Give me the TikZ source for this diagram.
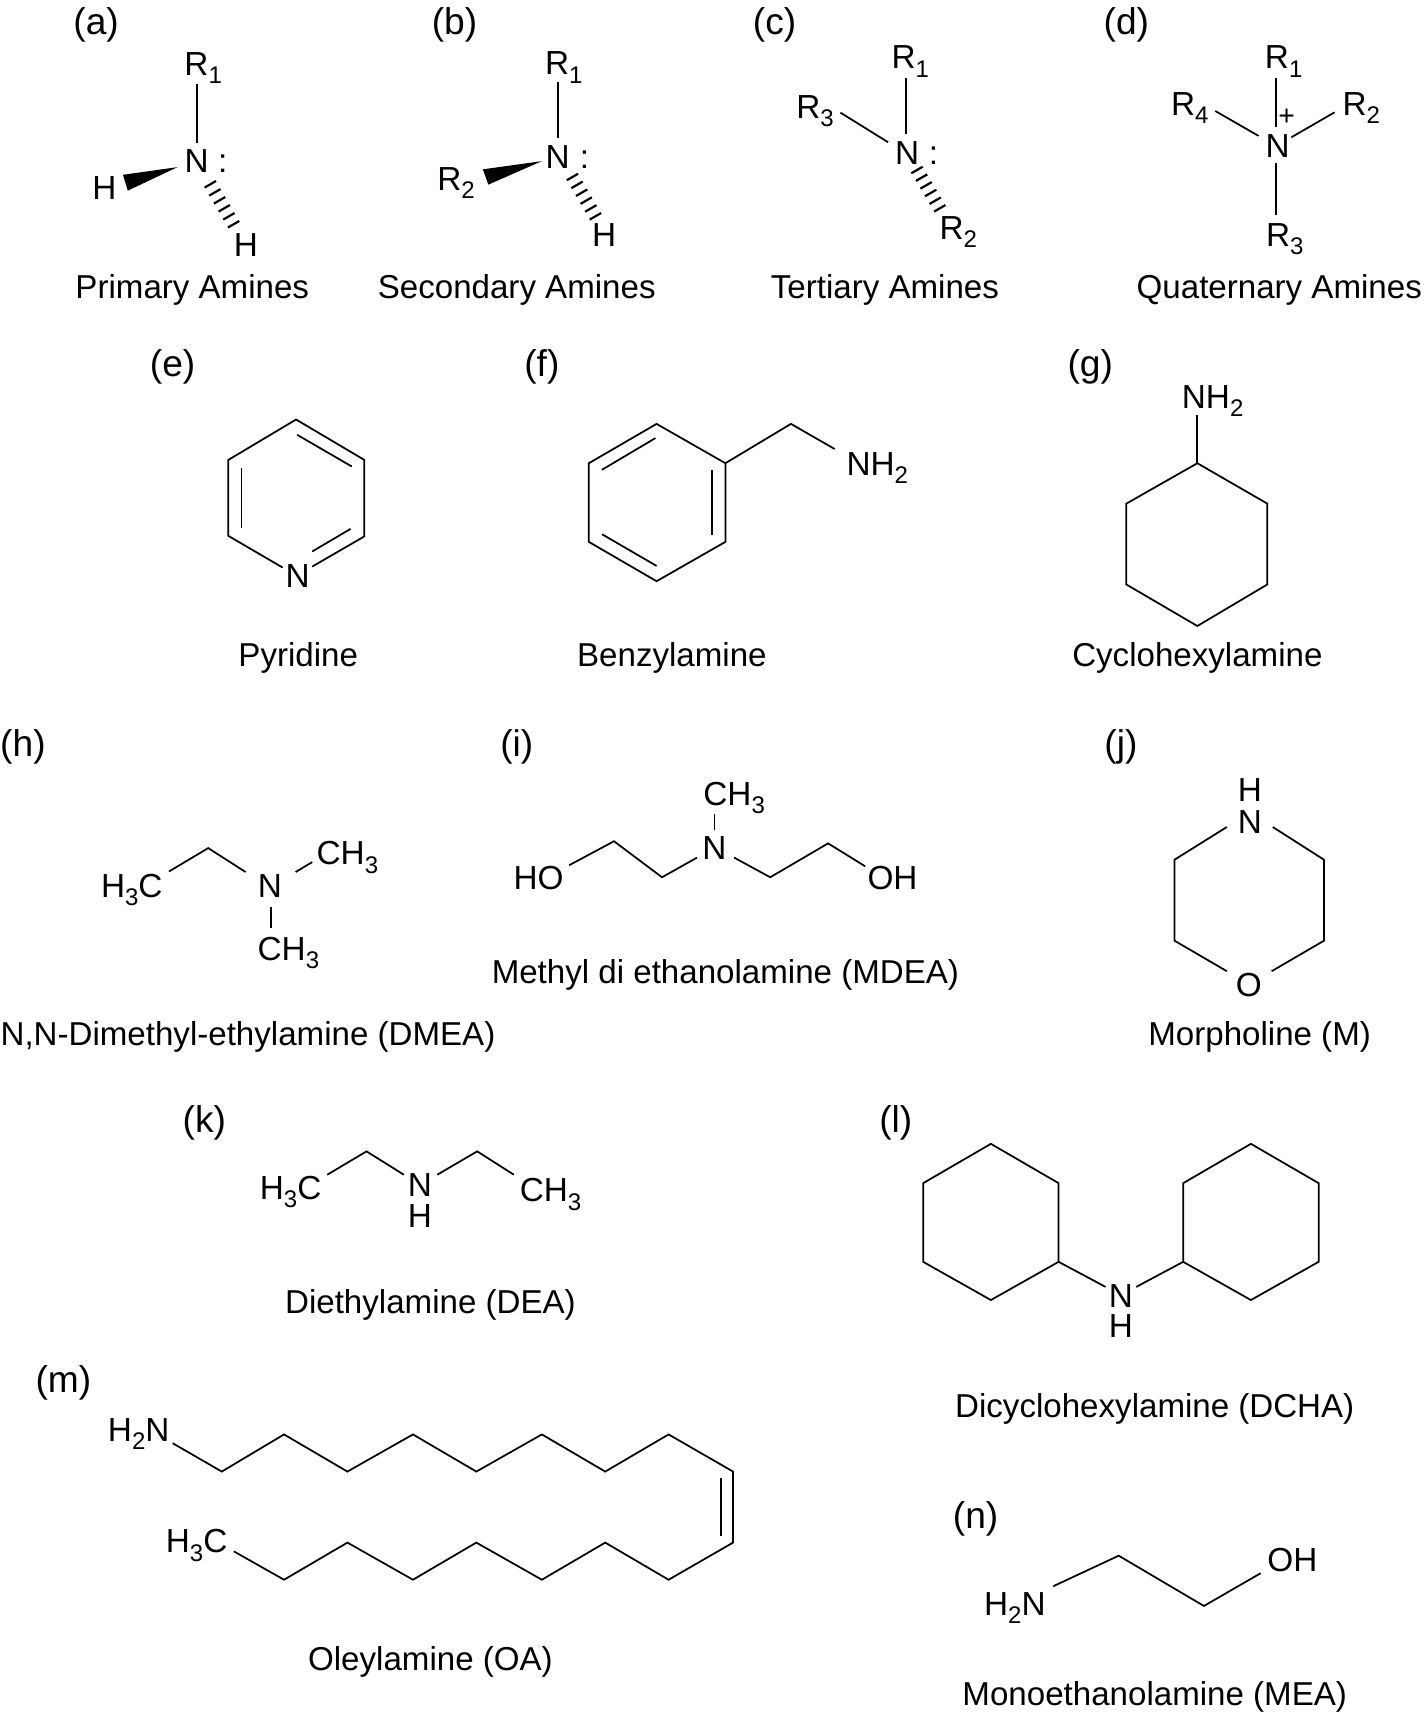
\documentclass[tikz,border=0pt]{standalone}
\usepackage{fontspec}
\setmainfont{Liberation Sans}
\usetikzlibrary{calc}
\newcommand{\sbs}[1]{\smash{\raisebox{-7.5pt}{\fontsize{22}{22}\selectfont #1}}}
\tikzset{
  x=1pt,y=-1pt,
  letterlab/.style={inner sep=0pt,yshift=-2pt,font=\fontsize{34}{38}\selectfont,text=black},
  namelab/.style={inner sep=0pt,yshift=-3.5pt,font=\fontsize{30.3}{34}\selectfont,text=black},
  atom/.style={inner sep=0pt,font=\fontsize{30.5}{34}\selectfont,text=black},
  bond/.style={draw=black,line width=1.6pt,line join=miter},
  wedgeb/.style={fill=black,draw=none},
  hashl/.style={draw=black,line width=2pt},
}
% hashed bond from (#1) to (#2)
\newcommand{\hashb}[2]{%
  \foreach \t in {0,0.2,0.4,0.6,0.8,1}{%
    \coordinate (hp) at ($(#1)!\t!(#2)$);
    \draw[hashl] ($(hp)+(-5.2,3)$) -- ($(hp)+(5.2,-3)$);
  }}
\begin{document}
\begin{tikzpicture}
\useasboundingbox (0,0) rectangle (1304,1568);
% ---- labels
\foreach \n/\p/\t in {la/{(88,21)}/(a),lb/{(416,21)}/(b),lc/{(709,21)}/(c),ld/{(1031,21)}/(d),
 le/{(158,334)}/(e),lf/{(496,334)}/(f),lg/{(998,334)}/(g),
 lh/{(21,682)}/(h),li/{(473,682)}/(i),lj/{(1026,682)}/(j),
 lk/{(187,1026)}/(k),ll/{(820,1026)}/(l),lm/{(58,1264)}/(m),ln/{(893,1388)}/(n)}
 {\node[letterlab] (\n) at \p {\t};}
\foreach \n/\p/\t in {ta/{(176,262)}/Primary Amines,tb/{(473,262)}/Secondary Amines,
 tc/{(810,262)}/Tertiary Amines,td/{(1171,262)}/Quaternary Amines,
 te/{(273,599)}/Pyridine,tf/{(615,599)}/Benzylamine,tg/{(1096,599)}/Cyclohexylamine,
 th/{(227,946)}/{N,N-Dimethyl-ethylamine (DMEA)},ti/{(664,889)}/Methyl di ethanolamine (MDEA),
 tj/{(1153,946)}/Morpholine (M),tk/{(394,1191)}/Diethylamine (DEA),
 tl/{(1057,1286)}/Dicyclohexylamine (DCHA),tm/{(394,1518)}/Oleylamine (OA),
 tn/{(1057,1550)}/Monoethanolamine (MEA)}
 {\node[namelab] (\n) at \p {\t};}
% ---- (a)
\node[atom] (aR) at (186,58.5) {R\sbs{1}};
\node[atom] (aN) at (180,147) {N};
\node[atom] (aC) at (204,149.6) {:};
\node[atom] (aH1) at (95.5,172) {H};
\node[atom] (aH2) at (225,224.5) {H};
\coordinate (aB1) at (180,77); \coordinate (aB2) at (180,131);
\draw[bond] (aB1) -- (aB2);
\fill[wedgeb] (162.5,153) -- (112.5,160) -- (117,174.5) -- cycle;
\coordinate (aH3) at (192.5,168.7); \coordinate (aH4) at (213.8,205.3);
\hashb{aH3}{aH4}
% ---- (b)
\node[atom] (bR) at (516,58) {R\sbs{1}};
\node[atom] (bN) at (510.5,143.5) {N};
\node[atom] (bC) at (535,146) {:};
\node[atom] (bR2) at (417.5,164) {R\sbs{2}};
\node[atom] (bH) at (553,215) {H};
\coordinate (bB1) at (510.5,75); \coordinate (bB2) at (510.5,126);
\draw[bond] (bB1) -- (bB2);
\fill[wedgeb] (496,147.5) -- (442,155) -- (447,169) -- cycle;
\coordinate (bH3) at (524,162); \coordinate (bH4) at (545,198);
\hashb{bH3}{bH4}
% ---- (c)
\node[atom] (cR1) at (833.3,52.5) {R\sbs{1}};
\node[atom] (cR3) at (746,97.6) {R\sbs{3}};
\node[atom] (cN) at (830.3,140.3) {N};
\node[atom] (cC) at (854.4,142.5) {:};
\node[atom] (cR2) at (877.2,208.6) {R\sbs{2}};
\coordinate (cB1) at (829.4,71.7); \coordinate (cB2) at (829.4,122.6);
\draw[bond] (cB1) -- (cB2);
\coordinate (cB3) at (769.3,103.1); \coordinate (cB4) at (812.9,130.2);
\draw[bond] (cB3) -- (cB4);
\coordinate (cH3) at (839.4,155.6); \coordinate (cH4) at (860.2,190.7);
\hashb{cH3}{cH4}
% ---- (d)
\node[atom] (dR1) at (1175,52.5) {R\sbs{1}};
\node[atom] (dR4) at (1089,95) {R\sbs{4}};
\node[atom] (dR2) at (1246,95) {R\sbs{2}};
\node[atom] (dN) at (1169.5,133.4) {N};
\node[atom] (dR3) at (1176,215.4) {R\sbs{3}};
\node[inner sep=0pt,font=\fontsize{26}{26}\selectfont] (dP) at (1177.7,107.4) {+};
\coordinate (dB1) at (1168,71.7); \coordinate (dB2) at (1168,116.5);
\draw[bond] (dB1) -- (dB2);
\coordinate (dB3) at (1112.4,101.6); \coordinate (dB4) at (1152,124.4);
\draw[bond] (dB3) -- (dB4);
\coordinate (dB5) at (1221.6,102.8); \coordinate (dB6) at (1182,125.7);
\draw[bond] (dB5) -- (dB6);
\coordinate (dB7) at (1168,149.5); \coordinate (dB8) at (1168,196.7);
\draw[bond] (dB7) -- (dB8);
% ---- (e) pyridine
\node[atom] (eN) at (272.4,527) {N};
\coordinate (e1) at (271,384); \coordinate (e2) at (333.5,421); \coordinate (e3) at (333.5,491);
\coordinate (e4) at (285.8,518.6); \coordinate (e5) at (258.7,519.5); \coordinate (e6) at (209,490.5); \coordinate (e7) at (209,421);
\draw[bond] (e4) -- (e3) -- (e2) -- (e1) -- (e7) -- (e6) -- (e5);
\coordinate (e8) at (221,428); \coordinate (e9) at (221,483.5);
\draw[bond] (e8) -- (e9);
\coordinate (e10) at (272,398); \coordinate (e11) at (322,427);
\draw[bond] (e10) -- (e11);
\coordinate (e12) at (320.9,484.1); \coordinate (e13) at (285.8,504.8);
\draw[bond] (e12) -- (e13);
% ---- (f) benzylamine
\node[atom] (fN) at (803,425) {NH\sbs{2}};
\coordinate (f1) at (601,388); \coordinate (f2) at (664,424); \coordinate (f3) at (664,496);
\coordinate (f4) at (601,532); \coordinate (f5) at (539,496); \coordinate (f6) at (539,424);
\draw[bond] (f1) -- (f2) -- (f3) -- (f4) -- (f5) -- (f6) -- cycle;
\coordinate (f7) at (551,430); \coordinate (f8) at (600,401);
\draw[bond] (f7) -- (f8);
\coordinate (f9) at (652,430); \coordinate (f10) at (652,490);
\draw[bond] (f9) -- (f10);
\coordinate (f11) at (551,489); \coordinate (f12) at (601,518);
\draw[bond] (f11) -- (f12);
\coordinate (f13) at (724,388); \coordinate (f14) at (764,411);
\draw[bond] (f2) -- (f13) -- (f14);
% ---- (g) cyclohexylamine
\node[atom] (gN) at (1110,363) {NH\sbs{2}};
\coordinate (g0) at (1096,380);
\coordinate (g1) at (1096,424); \coordinate (g2) at (1160,461); \coordinate (g3) at (1160,535);
\coordinate (g4) at (1096,573); \coordinate (g5) at (1031,535); \coordinate (g6) at (1031,461);
\draw[bond] (g0) -- (g1);
\draw[bond] (g1) -- (g2) -- (g3) -- (g4) -- (g5) -- (g6) -- cycle;
% ---- (h) DMEA
\node[atom] (hC1) at (120.6,811) {H\sbs{3}C};
\node[atom] (hN) at (247,810.8) {N};
\node[atom] (hC2) at (318,781.2) {CH\sbs{3}};
\node[atom] (hC3) at (264,868.7) {CH\sbs{3}};
\coordinate (h1) at (154.7,797.7); \coordinate (h2) at (190.6,776.3); \coordinate (h3) at (224.8,798.2);
\draw[bond] (h1) -- (h2) -- (h3);
\coordinate (h4) at (270.6,798.2); \coordinate (h5) at (285.8,789.1);
\draw[bond] (h4) -- (h5);
\coordinate (h6) at (248.3,830.6); \coordinate (h7) at (248.3,849.5);
\draw[bond] (h6) -- (h7);
% ---- (i) MDEA
\node[atom] (iC) at (672,727) {CH\sbs{3}};
\node[atom] (iN) at (654,776) {N};
\node[atom] (iO1) at (493,804) {HO};
\node[atom] (iO2) at (817,804) {OH};
\coordinate (i1) at (654,745); \coordinate (i2) at (654,760);
\draw[bond] (i1) -- (i2);
\coordinate (i3) at (521,792); \coordinate (i4) at (562,770); \coordinate (i5) at (606,803); \coordinate (i6) at (638,785);
\draw[bond] (i3) -- (i4) -- (i5) -- (i6);
\coordinate (i7) at (672,785); \coordinate (i8) at (705,803); \coordinate (i9) at (758,772); \coordinate (i10) at (792,793);
\draw[bond] (i7) -- (i8) -- (i9) -- (i10);
% ---- (j) morpholine
\node[atom] (jH) at (1144,723) {H};
\node[atom] (jN) at (1144,752) {N};
\node[atom] (jO) at (1143,902) {O};
\coordinate (j1) at (1123,757); \coordinate (j2) at (1075,787); \coordinate (j3) at (1075,861); \coordinate (j4) at (1123,889);
\coordinate (j5) at (1164,889); \coordinate (j6) at (1212,861); \coordinate (j7) at (1212,787); \coordinate (j8) at (1165,757);
\draw[bond] (j1) -- (j2) -- (j3) -- (j4);
\draw[bond] (j5) -- (j6) -- (j7) -- (j8);
% ---- (k) DEA
\node[atom] (kC1) at (266,1087) {H\sbs{3}C};
\node[atom] (kN) at (384.3,1085) {N};
\node[atom] (kH) at (384.3,1113.5) {H};
\node[atom] (kC2) at (504,1089.7) {CH\sbs{3}};
\coordinate (k1) at (299.5,1075.3); \coordinate (k2) at (335.5,1053.9); \coordinate (k3) at (369.7,1075.3);
\draw[bond] (k1) -- (k2) -- (k3);
\coordinate (k4) at (400.2,1075.3); \coordinate (k5) at (436.8,1053.9); \coordinate (k6) at (470.4,1075.3);
\draw[bond] (k4) -- (k5) -- (k6);
% ---- (l) DCHA
\node[atom] (lN) at (1026,1186) {N};
\node[atom] (lH) at (1026,1214) {H};
\coordinate (l1) at (907,1047); \coordinate (l2) at (969,1083); \coordinate (l3) at (969,1155);
\coordinate (l4) at (907,1190); \coordinate (l5) at (845,1155); \coordinate (l6) at (845,1083);
\draw[bond] (l1) -- (l2) -- (l3) -- (l4) -- (l5) -- (l6) -- cycle;
\coordinate (r1) at (1145,1047); \coordinate (r2) at (1207,1083); \coordinate (r3) at (1207,1155);
\coordinate (r4) at (1145,1190); \coordinate (r5) at (1083,1155); \coordinate (r6) at (1083,1083);
\draw[bond] (r1) -- (r2) -- (r3) -- (r4) -- (r5) -- (r6) -- cycle;
\coordinate (l7) at (1012,1178); \coordinate (l8) at (1040,1178);
\draw[bond] (l3) -- (l7);
\draw[bond] (r5) -- (l8);
% ---- (m) oleylamine
\node[atom] (mN) at (127,1309) {H\sbs{2}N};
\node[atom] (mC) at (180,1411) {H\sbs{3}C};
\coordinate (m0) at (158,1321); \coordinate (m1) at (203,1347); \coordinate (m2) at (260,1313); \coordinate (m3) at (318,1347);
\coordinate (m4) at (378,1313); \coordinate (m5) at (436,1347); \coordinate (m6) at (496,1313); \coordinate (m7) at (554,1347);
\coordinate (m8) at (612,1313); \coordinate (m9) at (671,1347); \coordinate (m10) at (671,1412); \coordinate (m11) at (612,1446);
\coordinate (m12) at (554,1412); \coordinate (m13) at (496,1446); \coordinate (m14) at (436,1412); \coordinate (m15) at (378,1446);
\coordinate (m16) at (318,1412); \coordinate (m17) at (260,1446); \coordinate (m18) at (214,1420);
\draw[bond] (m0) -- (m1) -- (m2) -- (m3) -- (m4) -- (m5) -- (m6) -- (m7) -- (m8) -- (m9) -- (m10) -- (m11) -- (m12) -- (m13) -- (m14) -- (m15) -- (m16) -- (m17) -- (m18);
\coordinate (m19) at (660,1353); \coordinate (m20) at (660,1406);
\draw[bond] (m19) -- (m20);
% ---- (n) MEA
\node[atom] (nN) at (929,1468) {H\sbs{2}N};
\node[atom] (nO) at (1183,1428) {OH};
\coordinate (n1) at (964,1452); \coordinate (n2) at (1024,1424); \coordinate (n3) at (1102,1470); \coordinate (n4) at (1154,1440);
\draw[bond] (n1) -- (n2) -- (n3) -- (n4);
\end{tikzpicture}
\end{document}
